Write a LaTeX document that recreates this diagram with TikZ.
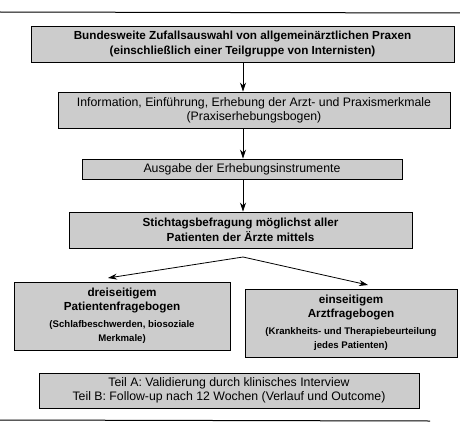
\documentclass[tikz,border=0pt]{standalone}
\usepackage{fontspec}
\setmainfont{Liberation Sans}
\usetikzlibrary{arrows.meta}
\newcommand{\remarkfont}{\fontsize{9.6}{11.5}\selectfont\bfseries}

\begin{document}
\begin{tikzpicture}[
		x = 1pt,
		y = -1pt,
		stage/.style = {
			draw,
			rectangle,
			fill = black!20,
			line width = 0.9pt,
			inner sep = 1pt,
			align = center,
			font = \fontsize{12.3}{14}\selectfont,
		},
		boldstage/.style = {
			stage,
			font = \fontsize{11.7}{14.5}\selectfont\bfseries,
		},
		flow/.style = {
			-{Stealth[length = 9pt, width = 6pt]},
			line width = 0.8pt,
		}
	]
	\useasboundingbox (0,0) rectangle (460,428);

	\draw [line width = 1pt] (0,12) -- (460,13);
	\draw [line width = 1pt] (0,420) -- (430,421);

	\node [boldstage, minimum width = 423, minimum height = 36] (praxen) at (242.5,44)
		{Bundesweite Zufallsauswahl von allgemeinärztlichen Praxen\\(einschließlich einer Teilgruppe von Internisten)};
	\node [stage, minimum width = 392, minimum height = 36] (info) at (254,110)
		{Information, Einführung, Erhebung der Arzt- und Praxismerkmale\\(Praxiserhebungsbogen)};
	\node [stage, minimum width = 320, minimum height = 20] (ausgabe) at (242,169)
		{Ausgabe der Erhebungsinstrumente};
	\node [boldstage, minimum width = 343, minimum height = 36] (stichtag) at (240.5,230)
		{Stichtagsbefragung möglichst aller\\Patienten der Ärzte mittels};
	\node [boldstage, minimum width = 216, minimum height = 68] (patbogen) at (122,316)
		{dreiseitigem\\Patientenfragebogen\\[2pt]{\remarkfont(Schlafbeschwerden, biosoziale}\\{\remarkfont Merkmale)}};
	\node [boldstage, minimum width = 212, minimum height = 68] (arztbogen) at (351,323)
		{einseitigem\\Arztfragebogen\\[2pt]{\remarkfont(Krankheits- und Therapiebeurteilung}\\{\remarkfont jedes Patienten)}};
	\node [stage, minimum width = 380, minimum height = 35] (teile) at (229,390.5)
		{Teil A: Validierung durch klinisches Interview\\Teil B: Follow-up nach 12 Wochen (Verlauf und Outcome)};

	\coordinate (achse) at (243,0);
	\coordinate (gabel) at (243,257);
	\coordinate (linksziel) at (108,278);
	\coordinate (rechtsziel) at (368,285);

	\draw [flow] (praxen.south -| achse) -- (info.north -| achse);
	\draw [flow] (info.south -| achse) -- (ausgabe.north -| achse);
	\draw [flow] (ausgabe.south -| achse) -- (stichtag.north -| achse);
	\draw [flow] (gabel) -- (linksziel);
	\draw [flow] (gabel) -- (rechtsziel);
\end{tikzpicture}
\end{document}
